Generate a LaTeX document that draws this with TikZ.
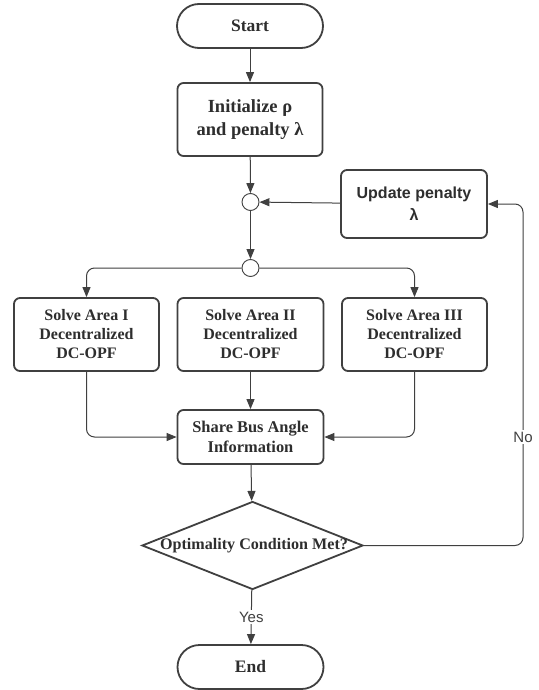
\documentclass[tikz,border=0pt]{standalone}
\usepackage{fontspec}
\setmainfont{Liberation Serif}
\setsansfont{Liberation Sans}
\usetikzlibrary{arrows.meta,shapes.geometric}
\definecolor{ln}{HTML}{404040}
\definecolor{tx}{HTML}{2E2E2E}
\tikzset{
  box/.style={draw=ln, line width=1.8pt, rounded corners=6pt, align=center, text=tx, inner sep=2pt, font=\fontsize{16}{19}\selectfont\bfseries},
  term/.style={box, rounded corners=22pt, minimum width=146pt, minimum height=44pt},
  junc/.style={circle, draw=ln, line width=0.9pt, minimum size=17pt, inner sep=0pt},
  arr/.style={draw=ln, line width=1pt, -{Triangle[length=10pt,width=8pt]}},
  lab/.style={fill=white, text=ln, font=\sffamily\fontsize{15}{18}\selectfont, inner sep=2pt}
}
\begin{document}
\begin{tikzpicture}[x=1pt,y=-1pt]
\useasboundingbox[fill=white] (0,0) rectangle (538,690);
\node[term, font=\fontsize{17.5}{20}\selectfont\bfseries] (start) at (250,26) {Start};
\node[box, minimum width=145pt, minimum height=73pt, font=\fontsize{18.5}{23}\selectfont\bfseries] (init) at (250,119.5) {Initialize ρ\\and penalty λ};
\node[junc] (c1) at (250.5,202) {};
\node[box, minimum width=146pt, minimum height=68pt, font=\sffamily\bfseries\fontsize{16}{22}\selectfont] (upd) at (414,204) {Update penalty\\λ};
\node[junc] (c2) at (250.5,268) {};
\node[box, minimum width=145pt, minimum height=73pt] (a1) at (86.5,334.5) {Solve Area I\\Decentralized\\DC-OPF};
\node[box, minimum width=146pt, minimum height=73pt] (a2) at (250.5,334.5) {Solve Area II\\Decentralized\\DC-OPF};
\node[box, minimum width=145pt, minimum height=73pt] (a3) at (414.5,334.5) {Solve Area III\\Decentralized\\DC-OPF};
\node[box, minimum width=146pt, minimum height=54pt, font=\fontsize{16.4}{20}\selectfont\bfseries] (share) at (250.5,437) {Share Bus Angle\\Information};
\node[diamond, draw=ln, line width=1.8pt, minimum width=221pt, minimum height=88pt, inner sep=0pt] (opt) at (252.5,545.5) {};
\node[text=tx, font=\fontsize{16.1}{20}\selectfont\bfseries] at (254,546) {Optimality Condition Met?};
\node[term, font=\fontsize{17.5}{20}\selectfont\bfseries] (end) at (250.5,667) {End};
\coordinate (rc) at (523,545.5);
\draw[arr] (start) -- (init);
\draw[arr] (init) -- (c1);
\draw[arr] (upd) -- (c1);
\draw[arr] (c1) -- (c2);
\draw[arr, rounded corners=8pt] (c2.west) -| (a1.north);
\draw[arr, rounded corners=8pt] (c2.east) -| (a3.north);
\draw[arr, rounded corners=8pt] (a1.south) |- (share.west);
\draw[arr, rounded corners=8pt] (a3.south) |- (share.east);
\draw[arr] (a2.south) -- (a2.south |- share.north);
\draw[arr] (share) -- (opt);
\draw[arr, rounded corners=8pt] (opt.east) -- (rc) |- (upd.east);
\node[lab] (no) at (rc |- share) {No};
\draw[arr] (opt) -- (end) node[lab, pos=0.5] {Yes};
\end{tikzpicture}
\end{document}
